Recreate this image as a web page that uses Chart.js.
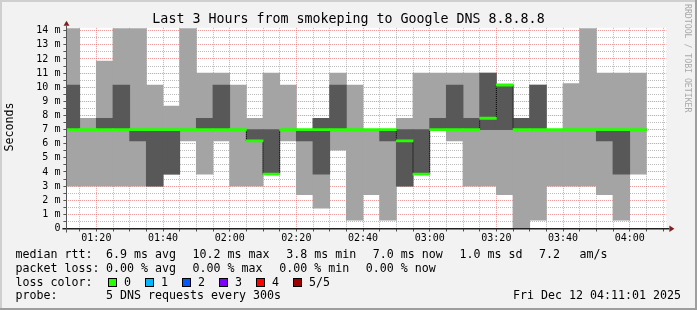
<!DOCTYPE html>
<html>
<head>
<meta charset="utf-8">
<title>Last 3 Hours from smokeping to Google DNS 8.8.8.8</title>
<script src="https://cdn.jsdelivr.net/npm/chart.js@4.4.1/dist/chart.umd.min.js"></script>
<style>
  html, body { margin: 0; padding: 0; background: #f2f2f2; }
  canvas { display: block; }
</style>
</head>
<body>
<canvas id="smoke" width="697" height="310"></canvas>
<script>
/* Data: one 5 minute step per entry, the label is the end of the step */
const times = [
    '01:15', '01:20', '01:25', '01:30', '01:35', '01:40', '01:45', '01:50', '01:55', '02:00',
    '02:05', '02:10', '02:15', '02:20', '02:25', '02:30', '02:35', '02:40', '02:45', '02:50',
    '02:55', '03:00', '03:05', '03:10', '03:15', '03:20', '03:25', '03:30', '03:35', '03:40',
    '03:45', '03:50', '03:55', '04:00', '04:05'
];

// the 5 pings of each step, sorted (ms)
const ping1 = [3.0, 3.0, 3.0, 3.0, 3.0, 3.0, 3.85, 6.2, 3.85, 6.2,
               3.0, 3.0, 3.85, 6.2, 2.4, 1.45, 5.55, 0.6, 2.4, 0.6,
               3.0, 3.85, 7.0, 6.2, 3.0, 3.0, 2.4, 0.0, 0.6, 3.0,
               3.0, 3.0, 2.4, 0.6, 3.85];
const ping2 = [7.0, 7.0, 7.0, 7.0, 6.2, 3.0, 3.85, 7.0, 7.0, 7.0,
               7.0, 6.2, 3.85, 7.0, 6.2, 3.85, 7.0, 7.0, 7.0, 6.2,
               3.0, 3.85, 7.0, 7.0, 7.0, 7.0, 7.0, 7.0, 7.0, 7.0,
               7.0, 7.0, 6.2, 3.85, 7.0];
const median = [7.0, 7.0, 7.0, 7.0, 7.0, 7.0, 7.0, 7.0, 7.0, 7.0,
                7.0, 6.2, 3.85, 7.0, 7.0, 7.0, 7.0, 7.0, 7.0, 7.0,
                6.2, 3.85, 7.0, 7.0, 7.0, 7.8, 10.15, 7.0, 7.0, 7.0,
                7.0, 7.0, 7.0, 7.0, 7.0];
const ping4 = [10.15, 7.0, 7.8, 10.15, 7.0, 7.0, 7.0, 7.0, 7.8, 10.15,
               7.0, 7.0, 7.0, 7.0, 7.0, 7.8, 10.15, 7.0, 7.0, 7.0,
               7.0, 7.0, 7.8, 10.15, 7.8, 11.0, 10.15, 7.8, 10.15, 7.0,
               7.0, 7.0, 7.0, 7.0, 7.0];
const ping5 = [14.15, 7.8, 11.85, 14.15, 14.15, 10.15, 8.65, 14.15, 11.0, 11.0,
               10.15, 7.8, 11.0, 10.15, 7.0, 7.8, 11.0, 10.15, 7.0, 7.0,
               7.8, 11.0, 11.0, 11.0, 11.0, 11.0, 10.15, 7.8, 10.15, 7.0,
               10.25, 14.15, 11.0, 11.0, 11.0];

const tickLabels = ['01:20', '01:40', '02:00', '02:20', '02:40', '03:00', '03:20', '03:40', '04:00'];
const rangeStart = '01:11:01';
const rangeEnd = '04:11:01';

const title = 'Last 3 Hours from smokeping to Google DNS 8.8.8.8';
const rttStats = ['6.9 ms avg', '10.2 ms max', '3.8 ms min', '7.0 ms now', '1.0 ms sd', '7.2', 'am/s'];
const lossStats = ['0.00 % avg', '0.00 % max', '0.00 % min', '0.00 % now'];
const lossNames = ['0', '1', '2', '3', '4', '5/5'];
const lossColors = ['#26ff00', '#00b8ff', '#0059ff', '#7e00ff', '#ff0000', '#a10000'];
const probeText = '5 DNS requests every 300s';
const stamp = 'Fri Dec 12 04:11:01 2025';

/* Helpers */
const STEP = 5;
const MONO = '"DejaVu Sans Mono", monospace';

function toMin(t) {
    const p = t.split(':').map(Number);
    return p[0] * 60 + p[1] + (p[2] || 0) / 60;
}

function fmtMin(m) {
    const h = Math.floor(m / 60);
    const mm = Math.round(m - h * 60);
    return String(h).padStart(2, '0') + ':' + String(mm).padStart(2, '0');
}

const ends = times.map(toMin);
const centers = ends.map(e => e - STEP / 2);

const outerSmoke = centers.map((x, i) => ({x: x, y: [ping1[i], ping5[i]]}));
const innerSmoke = centers.map((x, i) => ({x: x, y: [ping2[i], ping4[i]]}));
const medianMark = centers.map((x, i) => ({x: x, y: [median[i] - 0.075, median[i] + 0.075]}));
const medianStep = ends.map((e, i) => ({x: e - STEP, y: median[i]}))
    .concat([{x: ends[ends.length - 1], y: median[median.length - 1]}]);

const GRID = 'rgba(143,143,143,0.6)';
const MGRID = 'rgba(222,79,79,0.55)';

/* rrdtool look: frame, axes, arrows and the text around the graph */
const rrdFrame = {
    id: 'rrdFrame',
    beforeDraw(chart) {
        const c = chart.ctx;
        const a = chart.chartArea;
        c.save();
        c.fillStyle = '#f2f2f2';
        c.fillRect(0, 0, chart.width, chart.height);
        c.fillStyle = '#cfcfcf';
        c.fillRect(0, 0, chart.width, 2);
        c.fillRect(0, 0, 2, chart.height);
        c.fillStyle = '#9e9e9e';
        c.fillRect(chart.width - 2, 0, 2, chart.height);
        c.fillRect(0, chart.height - 2, chart.width, 2);
        c.fillStyle = '#ffffff';
        c.fillRect(a.left, a.top, a.right - a.left, a.bottom - a.top);
        c.restore();
    },
    afterDraw(chart) {
        const c = chart.ctx;
        const a = chart.chartArea;
        c.save();

        // axes
        c.strokeStyle = '#1f1f1f';
        c.lineWidth = 1.5;
        c.beginPath();
        c.moveTo(a.left - 4, a.bottom + 0.25);
        c.lineTo(a.right + 3, a.bottom + 0.25);
        c.stroke();
        c.lineWidth = 1;
        c.strokeStyle = '#555';
        c.beginPath();
        c.moveTo(66.5, a.bottom + 4);
        c.lineTo(66.5, a.top - 2);
        c.stroke();

        // arrows
        c.fillStyle = '#801f1f';
        c.beginPath();
        c.moveTo(a.right + 3, a.bottom - 3);
        c.lineTo(a.right + 3, a.bottom + 3.5);
        c.lineTo(a.right + 8, a.bottom + 0.25);
        c.closePath();
        c.fill();
        c.beginPath();
        c.moveTo(63.5, a.top - 2);
        c.lineTo(69.5, a.top - 2);
        c.lineTo(66.5, a.top - 7);
        c.closePath();
        c.fill();

        // title
        c.fillStyle = '#000';
        c.font = '13.3px ' + MONO;
        c.textAlign = 'center';
        c.textBaseline = 'alphabetic';
        c.fillText(title, 348.5, 23);

        // unit label
        c.font = '11.63px ' + MONO;
        c.save();
        c.translate(10, 127);
        c.rotate(-Math.PI / 2);
        c.textBaseline = 'middle';
        c.fillText('Seconds', 0, 0);
        c.restore();

        // watermark
        c.save();
        c.font = '8.2px ' + MONO;
        c.fillStyle = '#a9a9a9';
        c.translate(687.5, 4);
        c.rotate(Math.PI / 2);
        c.textAlign = 'left';
        c.textBaseline = 'middle';
        c.fillText('RRDTOOL / TOBI OETIKER', 0, 0);
        c.restore();

        // legend
        c.textAlign = 'left';
        c.textBaseline = 'alphabetic';
        c.font = '11.63px ' + MONO;
        const rttX = [106, 192.6, 286.2, 372.8, 459.4, 539, 579.4];
        c.fillText('median rtt:', 15.5, 258.3);
        rttStats.forEach((s, i) => c.fillText(s, rttX[i], 258.3));
        const lossX = [106, 192.6, 279.2, 365.8];
        c.fillText('packet loss:', 15.5, 272);
        lossStats.forEach((s, i) => c.fillText(s, lossX[i], 272));
        c.fillText('loss color:', 15.5, 285.7);
        const boxX = [108.5, 145.5, 182.5, 219.5, 256.5, 293.5];
        lossNames.forEach((s, i) => {
            c.fillStyle = lossColors[i];
            c.fillRect(boxX[i], 278.5, 8, 8);
            c.strokeStyle = '#000';
            c.lineWidth = 1;
            c.strokeRect(boxX[i], 278.5, 8, 8);
            c.fillStyle = '#000';
            c.fillText(s, boxX[i] + 15.5, 285.7);
        });
        c.fillText('probe:', 15.5, 299.4);
        c.fillText(probeText, 106, 299.4);
        c.textAlign = 'right';
        c.fillText(stamp, 681, 299.4);
        c.restore();
    }
};

const barCommon = {
    grouped: false,
    barPercentage: 1,
    categoryPercentage: 1,
    borderWidth: 0,
    inflateAmount: 0.4
};

const config = {
    type: 'bar',
    data: {
        datasets: [
            Object.assign({label: 'median', data: medianMark, backgroundColor: lossColors[0], order: 1}, barCommon),
            {
                label: 'median step',
                type: 'line',
                data: medianStep,
                borderColor: '#000',
                borderWidth: 1,
                borderDash: [1, 1],
                stepped: 'before',
                pointRadius: 0,
                clip: 0,
                order: 2
            },
            Object.assign({label: 'inner smoke', data: innerSmoke, backgroundColor: '#585858', order: 3}, barCommon),
            Object.assign({label: 'outer smoke', data: outerSmoke, backgroundColor: '#a4a4a4', order: 4}, barCommon)
        ]
    },
    options: {
        responsive: false,
        animation: false,
        devicePixelRatio: 1,
        events: [],
        layout: {padding: {top: 27.85, right: 30.6, left: 0, bottom: 0}},
        plugins: {
            legend: {display: false},
            title: {display: false},
            tooltip: {enabled: false}
        },
        scales: {
            x: {
                type: 'linear',
                min: toMin(rangeStart),
                max: toMin(rangeEnd),
                offset: false,
                z: 1,
                afterBuildTicks: scale => {
                    scale.ticks = ends.concat([ends[ends.length - 1] + STEP]).map(v => ({value: v}));
                },
                afterFit: scale => { scale.height = 310 - 228.5; },
                grid: {
                    offset: false,
                    lineWidth: 1,
                    color: ctx => (ctx.tick && tickLabels.includes(fmtMin(ctx.tick.value))) ? MGRID : GRID,
                    tickColor: '#555',
                    tickLength: 3
                },
                border: {display: false, dash: [1, 1]},
                ticks: {
                    autoSkip: false,
                    maxRotation: 0,
                    padding: 1,
                    color: '#000',
                    font: {family: MONO, size: 10},
                    callback: v => tickLabels.includes(fmtMin(v)) ? fmtMin(v) : ''
                }
            },
            y: {
                type: 'linear',
                min: 0,
                max: 14.2,
                z: 1,
                afterFit: scale => { scale.width = 66.4; },
                grid: {
                    lineWidth: 1,
                    color: ctx => (ctx.tick && Number.isInteger(ctx.tick.value)) ? MGRID : GRID,
                    tickColor: '#555',
                    tickLength: 3
                },
                border: {display: false, dash: [1, 1]},
                ticks: {
                    stepSize: 0.5,
                    includeBounds: false,
                    autoSkip: false,
                    padding: 3,
                    color: '#000',
                    font: {family: MONO, size: 10},
                    callback: v => v === 0 ? '0' : (Number.isInteger(v) ? v + ' m' : '')
                }
            }
        }
    },
    plugins: [rrdFrame]
};

const smokeChart = new Chart(document.getElementById('smoke'), config);
</script>
</body>
</html>
